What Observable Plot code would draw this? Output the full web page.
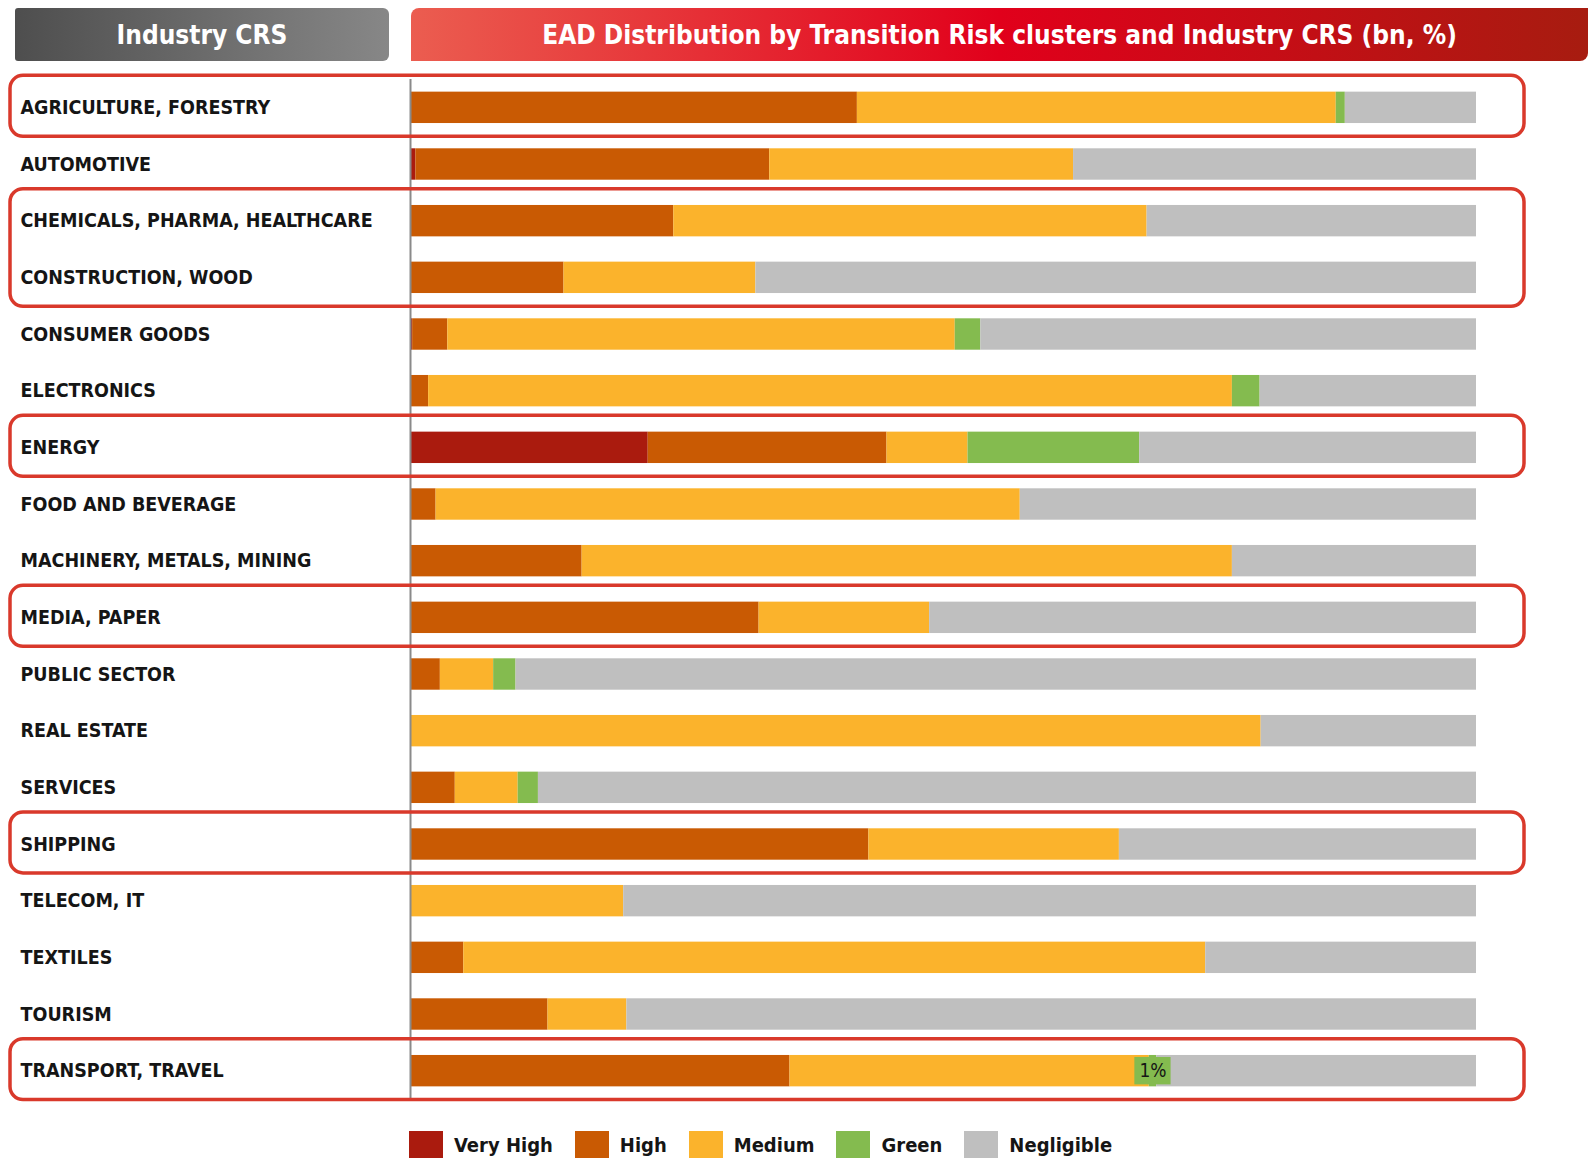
<!DOCTYPE html>
<html><head><meta charset="utf-8">
<script src="https://cdn.jsdelivr.net/npm/d3@7"></script>
<script src="https://cdn.jsdelivr.net/npm/@observablehq/plot@0.6"></script>
<style>
body{margin:0;background:#fff;font-family:"Liberation Sans Narrow","DejaVu Sans Condensed",sans-serif;}
#wrap{position:relative;width:1590px;}
#head{position:relative;height:62px;}
.hbox{position:absolute;top:8px;height:53px;display:flex;align-items:center;justify-content:center;color:#fff;font-weight:bold;font-size:26px;}
#h1{left:15px;width:374px;background:linear-gradient(to right,#4e4e4e,#878787);border-radius:3px 6px 6px 3px;}
#h2{left:411px;width:1177px;background:linear-gradient(to right,#eb5d50 0%,#e1001b 50%,#a71c10 100%);border-radius:8px 0 8px 0;}
#legend{padding-left:409px;margin-top:3px;}
.lg-swatches{font-family:"Liberation Sans Narrow","DejaVu Sans Condensed",sans-serif;font-size:20px;font-weight:bold;color:#151515;margin:0;}
.lg-swatch{margin-right:22px !important;}
.lg-swatch > svg{margin-right:11px !important;}
</style></head><body>
<div id="wrap">
<div id="head"><div class="hbox" id="h1">Industry CRS</div><div class="hbox" id="h2">EAD Distribution by Transition Risk clusters and Industry CRS (bn, %)</div></div>
<div id="chart"></div>
<div id="legend"></div>
</div>
<script>
const industries = ["AGRICULTURE, FORESTRY","AUTOMOTIVE","CHEMICALS, PHARMA, HEALTHCARE","CONSTRUCTION, WOOD","CONSUMER GOODS","ELECTRONICS","ENERGY","FOOD AND BEVERAGE","MACHINERY, METALS, MINING","MEDIA, PAPER","PUBLIC SECTOR","REAL ESTATE","SERVICES","SHIPPING","TELECOM, IT","TEXTILES","TOURISM","TRANSPORT, TRAVEL"];
const series = ["Very High","High","Medium","Green","Negligible"];
const colors = ["#aa1b0e","#c95a03","#fbb32c","#84bb4f","#bfbfbf"];
const veryHigh   = [0, 0.5, 0, 0, 0.2, 0, 22.3, 0, 0, 0, 0, 0, 0, 0, 0, 0, 0, 0];
const high       = [41.9, 33.2, 24.7, 14.4, 3.3, 1.7, 22.4, 2.4, 16.1, 32.7, 2.8, 0, 4.2, 43.0, 0, 5.0, 12.9, 35.6];
const medium     = [44.9, 28.5, 44.4, 18.0, 47.6, 75.4, 7.6, 54.8, 61.0, 16.0, 5.0, 79.8, 5.9, 23.5, 20.0, 69.6, 7.4, 33.7];
const green      = [0.85, 0, 0, 0, 2.4, 2.6, 16.1, 0, 0, 0, 2.1, 0, 1.9, 0, 0, 0, 0, 0.7];
const negligible = [12.3, 37.8, 30.9, 67.6, 46.5, 20.3, 31.6, 42.8, 22.9, 51.3, 90.1, 20.2, 88.0, 33.5, 80.0, 25.4, 79.7, 30.0];
const highlightGroups = [["AGRICULTURE, FORESTRY"],["CHEMICALS, PHARMA, HEALTHCARE","CONSTRUCTION, WOOD"],["ENERGY"],["MEDIA, PAPER"],["SHIPPING"],["TRANSPORT, TRAVEL"]];
const labelIndustry = "TRANSPORT, TRAVEL";
const labelText = "1%";

const values = [veryHigh, high, medium, green, negligible];
const rows = [];
industries.forEach((name, i) => series.forEach((s, j) => rows.push({name, series: s, value: values[j][i]})));

const li = industries.indexOf(labelIndustry);
const tot = values.reduce((a, v) => a + v[li], 0);
const mid = (veryHigh[li] + high[li] + medium[li] + green[li] / 2) / tot;
const labelData = [{name: labelIndustry, x: mid, text: labelText}];

const FONT = '"Liberation Sans Narrow","DejaVu Sans Condensed",sans-serif';
const plot = Plot.plot({
  width: 1590, height: 1063,
  marginLeft: 410, marginRight: 114, marginTop: 17, marginBottom: 26,
  x: {domain: [0, 1], axis: null},
  y: {domain: industries, paddingInner: 0.446, paddingOuter: 0.223, round: false, label: null, axis: null},
  color: {domain: series, range: colors},
  style: {fontFamily: FONT, fontSize: "19.5px", color: "#151515", background: "transparent", overflow: "visible"},
  marks: [
    Plot.barX(rows, Plot.stackX({x: "value", y: "name", fill: "series", offset: "normalize"})),
    Plot.ruleX([0], {stroke: "#8a8a8a", strokeWidth: 2}),
    Plot.axisY({tickSize: 0, tickPadding: 0, textAnchor: "start", dx: 20 - 410, fontWeight: "bold", fill: "#151515", label: null}),
    Plot.barX(labelData, {x1: d => d.x - 0.017, x2: d => d.x + 0.017, y: "name", fill: "#84bb4f", insetTop: 2, insetBottom: 2}),
    Plot.text(labelData, {x: "x", y: "name", text: "text", fontSize: 19, fill: "#151515"})
  ]
});

const ys = plot.scale("y");
const xs = plot.scale("x");
const step = ys.step ?? (ys.apply(industries[1]) - ys.apply(industries[0]));
const bw = ys.bandwidth;
const g = d3.select(plot).append("g").attr("fill", "none").attr("stroke", "#d9392b").attr("stroke-width", 3.5);
for (const grp of highlightGroups) {
  const c0 = ys.apply(grp[0]) + bw / 2;
  const c1 = ys.apply(grp[grp.length - 1]) + bw / 2;
  const top = c0 - step * 0.565, bot = c1 + step * 0.51;
  g.append("rect").attr("x", 10).attr("y", top).attr("width", xs.apply(1) + 48 - 10).attr("height", bot - top).attr("rx", 13).attr("ry", 13);
}
document.getElementById("chart").appendChild(plot);

const leg = plot.legend("color", {legend: "swatches", swatchWidth: 34, swatchHeight: 27, className: "lg"});
document.getElementById("legend").appendChild(leg);
</script>
</body></html>
